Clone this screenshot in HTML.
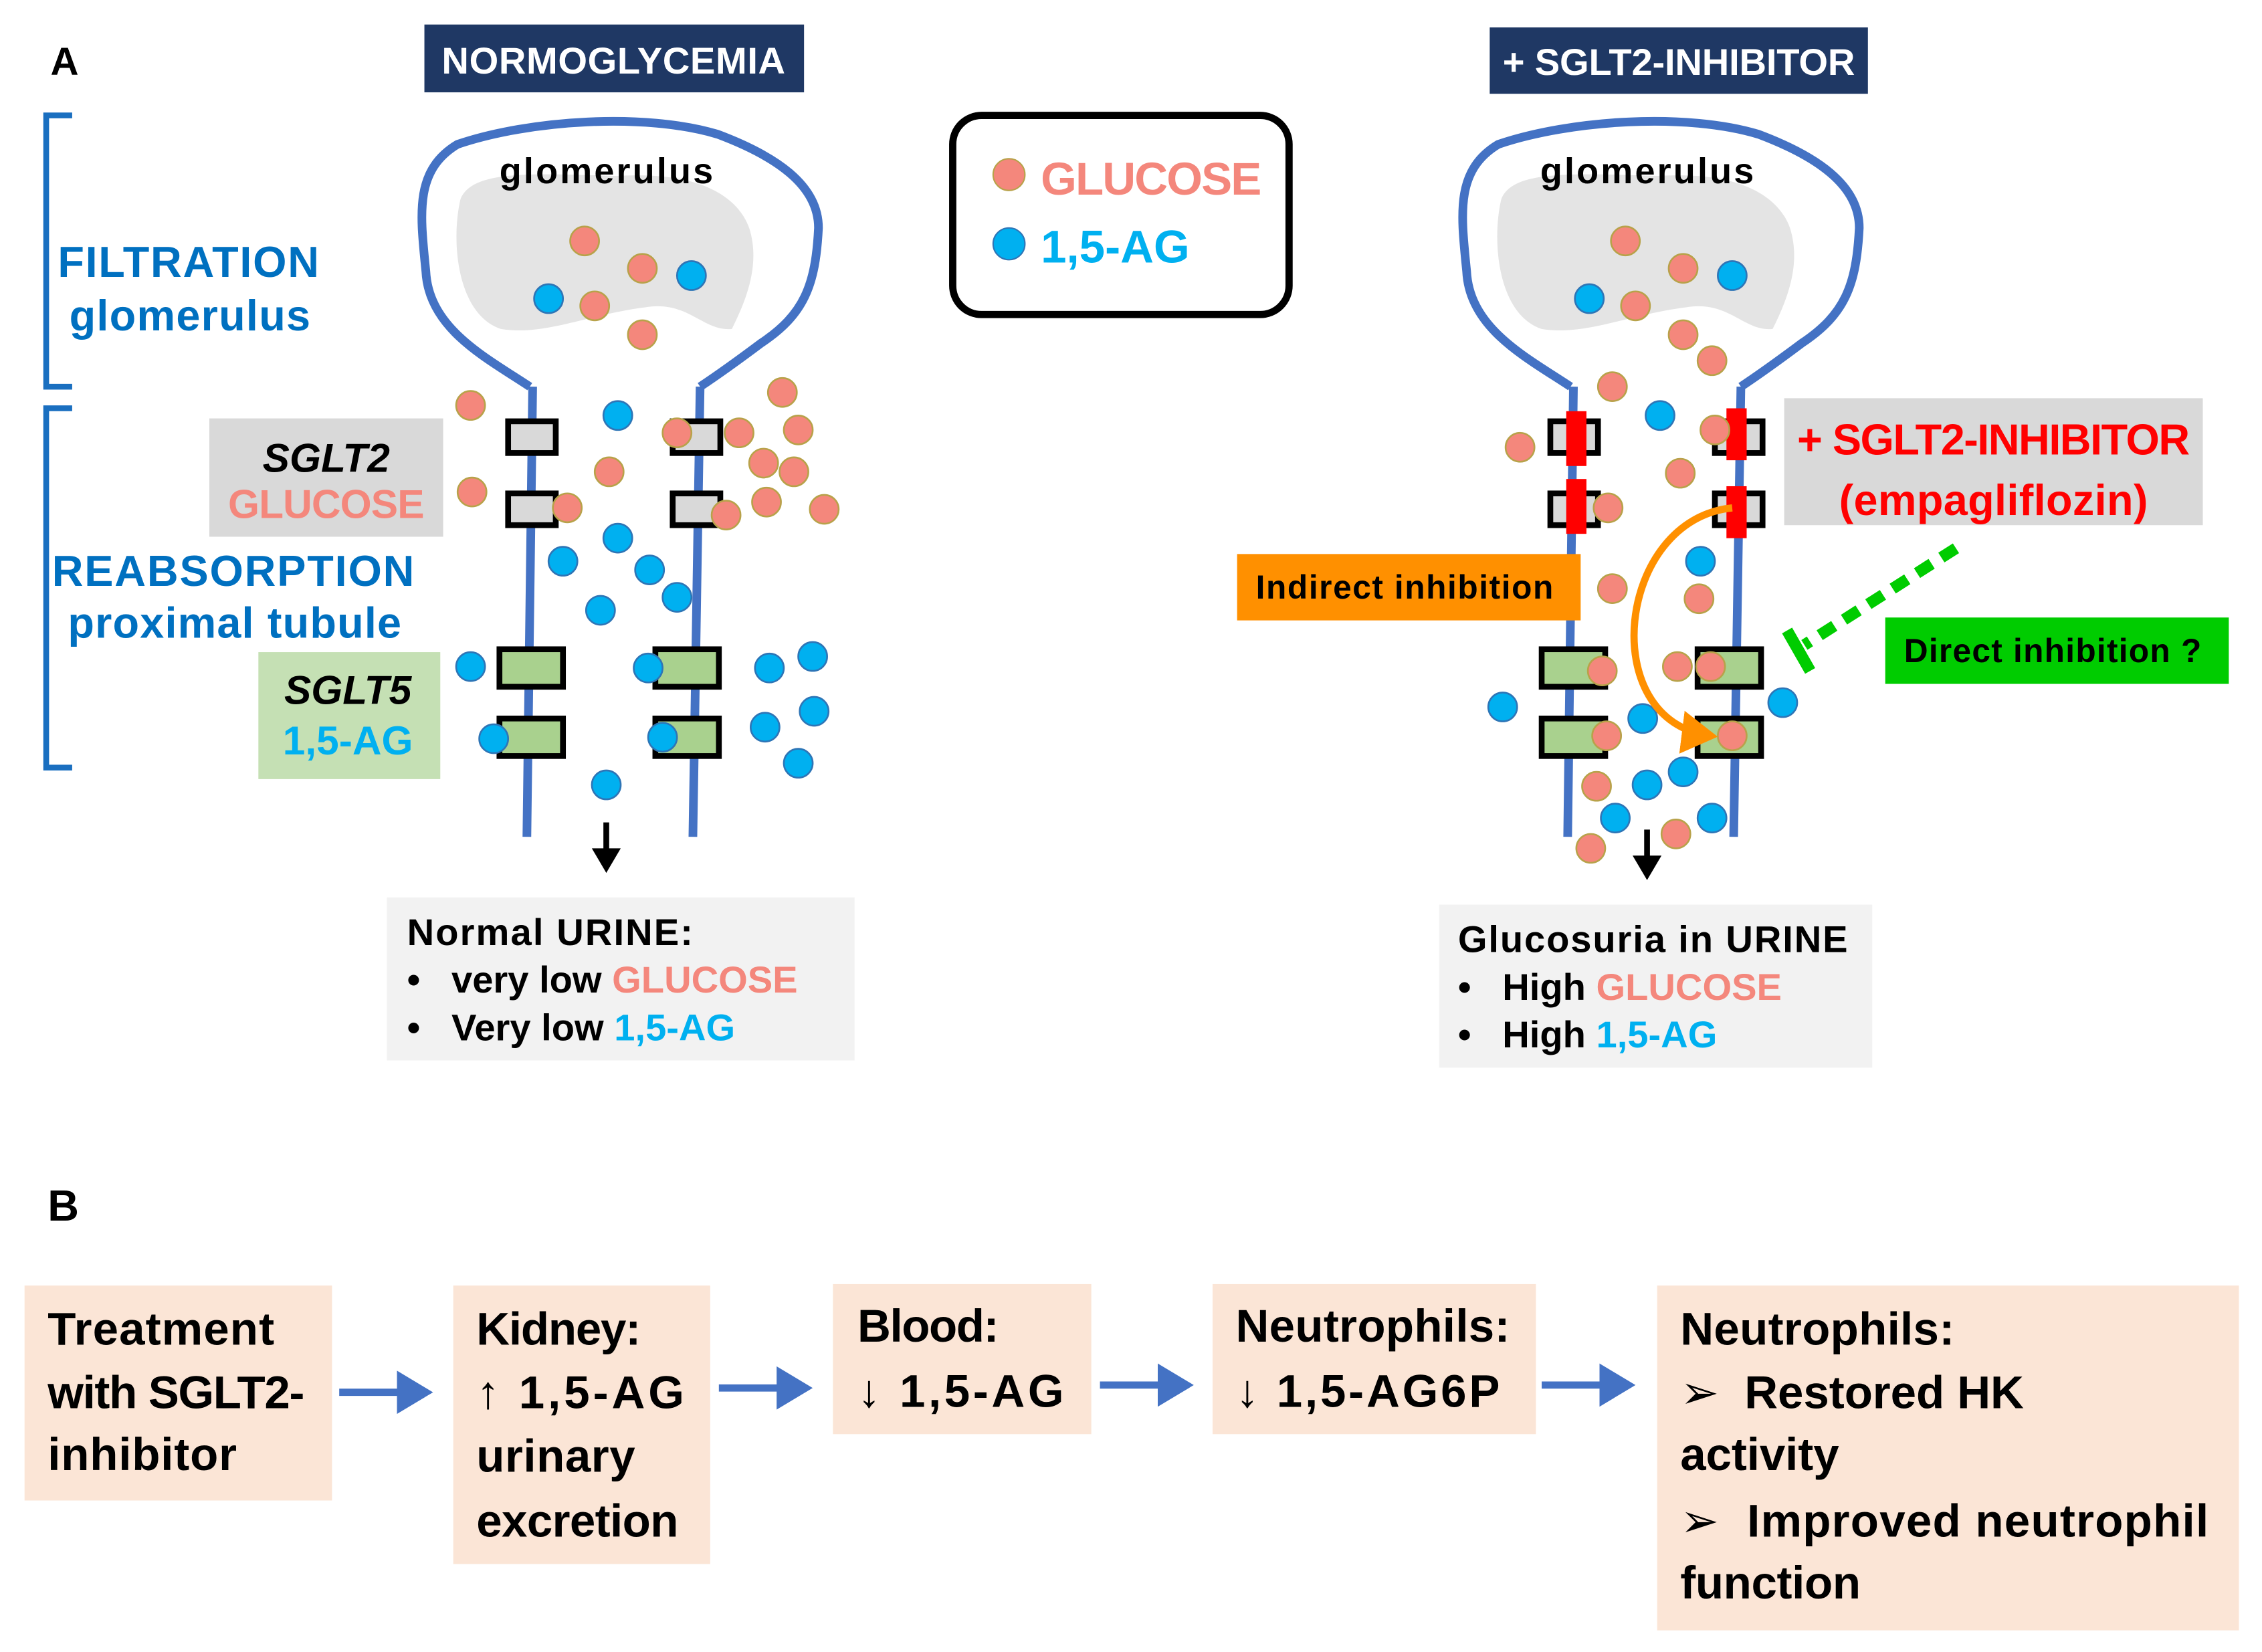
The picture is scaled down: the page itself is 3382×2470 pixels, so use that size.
<!DOCTYPE html>
<html><head><meta charset="utf-8"><style>html,body{margin:0;padding:0;background:#fff}svg{display:block}text{font-family:"Liberation Sans","DejaVu Sans",sans-serif;font-weight:bold}</style></head>
<body>
<svg width="3382" height="2470" viewBox="0 0 1567 1145" preserveAspectRatio="none" xmlns="http://www.w3.org/2000/svg">
<defs>
<marker id="ab" markerWidth="6" markerHeight="6" refX="4" refY="3" orient="auto" markerUnits="strokeWidth"><path d="M0,0 L5,3 L0,6 z" fill="#4472c4"/></marker>
<marker id="ao" markerWidth="6" markerHeight="6" refX="4" refY="3" orient="auto" markerUnits="strokeWidth"><path d="M0,0 L5,3 L0,6 z" fill="#ff9000"/></marker>
<g id="glom">
<path d="M0,0 C-30,-20 -70,-40 -72,-80 C-76,-120 -80,-150 -50,-168 C0,-185 80,-190 130,-175 C170,-160 200,-140 200,-110 C198,-70 190,-50 160,-30 C140,-15 130,-8 118,0" fill="none" stroke="#4472c4" stroke-width="6"/>
<path d="M-48,-130 C-40,-150 0,-148 60,-146 C120,-150 145,-130 152,-110 C160,-85 150,-60 140,-40 C120,-38 110,-60 80,-55 C40,-50 10,-35 -20,-40 C-50,-50 -55,-100 -48,-130 Z" fill="#e4e4e4"/>
</g>
</defs>
<text x="35" y="52" font-size="27">A</text>
<text x="33" y="846" font-size="30">B</text>
<rect x="294" y="17" width="263" height="47" fill="#1f3864"/>
<text x="425" y="51" font-size="26" fill="#fff" text-anchor="middle" textLength="238">NORMOGLYCEMIA</text>
<rect x="1032" y="19" width="262" height="46" fill="#1f3864"/>
<text x="1163" y="52" font-size="26" fill="#fff" text-anchor="middle" textLength="244">+ SGLT2-INHIBITOR</text>
<path d="M50,80 H32 V268 H50 M50,283 H32 V532 H50" fill="none" stroke="#1a6fc0" stroke-width="4"/>
<g fill="#0070c0" font-size="30"><text x="40" y="192" textLength="181">FILTRATION</text><text x="48" y="229" textLength="167">glomerulus</text><text x="36" y="406" textLength="251">REABSORPTION</text><text x="47" y="442" textLength="231">proximal tubule</text></g>
<rect x="145" y="290" width="162" height="82" fill="#d9d9d9"/>
<text x="226" y="327" font-size="28" font-style="italic" text-anchor="middle">SGLT2</text>
<text x="226" y="359" font-size="28" fill="#f4877c" text-anchor="middle" textLength="136">GLUCOSE</text>
<rect x="179" y="452" width="126" height="88" fill="#c5e0b4"/>
<text x="241" y="488" font-size="28" font-style="italic" text-anchor="middle">SGLT5</text>
<text x="241" y="523" font-size="28" fill="#00b0f0" text-anchor="middle">1,5-AG</text>
<use href="#glom" x="367" y="268"/>
<path d="M369,268 L365,580 M485,268 L480,580" stroke="#4472c4" stroke-width="6" fill="none"/>
<text x="420" y="127" font-size="25" text-anchor="middle" textLength="148">glomerulus</text>
<g fill="#d9d9d9" stroke="#000" stroke-width="4"><rect x="352" y="292" width="33" height="22"/><rect x="352" y="342" width="33" height="22"/><rect x="466" y="292" width="33" height="22"/><rect x="466" y="342" width="33" height="22"/></g>
<g fill="#a9d18e" stroke="#000" stroke-width="4"><rect x="346" y="450" width="44" height="26"/><rect x="346" y="498" width="44" height="26"/><rect x="454" y="450" width="44" height="26"/><rect x="454" y="498" width="44" height="26"/></g>
<g fill="#f4877c" stroke="#b8a24a" stroke-width="1.2">
<circle cx="405" cy="167" r="10"/><circle cx="445" cy="186" r="10"/><circle cx="412" cy="212" r="10"/><circle cx="445" cy="232" r="10"/><circle cx="326" cy="281" r="10"/><circle cx="327" cy="341" r="10"/><circle cx="469" cy="300" r="10"/><circle cx="512" cy="300" r="10"/><circle cx="542" cy="272" r="10"/><circle cx="553" cy="298" r="10"/><circle cx="529" cy="321" r="10"/><circle cx="550" cy="327" r="10"/><circle cx="422" cy="327" r="10"/><circle cx="393" cy="352" r="10"/><circle cx="503" cy="357" r="10"/><circle cx="531" cy="348" r="10"/><circle cx="571" cy="353" r="10"/></g>
<g fill="#00b0f0" stroke="#2e75b6" stroke-width="1.2">
<circle cx="479" cy="191" r="10"/><circle cx="380" cy="207" r="10"/><circle cx="428" cy="288" r="10"/><circle cx="428" cy="373" r="10"/><circle cx="390" cy="389" r="10"/><circle cx="450" cy="395" r="10"/><circle cx="469" cy="414" r="10"/><circle cx="416" cy="423" r="10"/><circle cx="326" cy="462" r="10"/><circle cx="449" cy="463" r="10"/><circle cx="533" cy="463" r="10"/><circle cx="563" cy="455" r="10"/><circle cx="342" cy="512" r="10"/><circle cx="459" cy="511" r="10"/><circle cx="530" cy="504" r="10"/><circle cx="564" cy="493" r="10"/><circle cx="553" cy="529" r="10"/><circle cx="420" cy="544" r="10"/></g>
<path d="M420,570 V590" stroke="#000" stroke-width="4"/><path d="M410,588 L430,588 L420,605 Z" fill="#000"/>
<rect x="268" y="622" width="324" height="113" fill="#f2f2f2"/>
<text x="282" y="655" font-size="26" textLength="198">Normal URINE:</text>
<text x="282" y="688" font-size="26">•&#160;&#160;&#160;very low <tspan fill="#f4877c">GLUCOSE</tspan></text>
<text x="282" y="721" font-size="26">•&#160;&#160;&#160;Very low <tspan fill="#00b0f0">1,5-AG</tspan></text>
<rect x="660" y="80" width="233" height="138" rx="20" fill="#fff" stroke="#000" stroke-width="5"/>
<circle cx="699" cy="121" r="11" fill="#f4877c" stroke="#b8a24a"/><circle cx="699" cy="169" r="11" fill="#00b0f0" stroke="#2e75b6"/>
<text x="721" y="135" font-size="32" fill="#f4877c" textLength="153">GLUCOSE</text>
<text x="721" y="182" font-size="32" fill="#00b0f0">1,5-AG</text>
<use href="#glom" x="1088" y="268"/>
<path d="M1090,268 L1086,580 M1206,268 L1201,580" stroke="#4472c4" stroke-width="6" fill="none"/>
<text x="1141" y="127" font-size="25" text-anchor="middle" textLength="148">glomerulus</text>
<g fill="#d9d9d9" stroke="#000" stroke-width="4"><rect x="1074" y="292" width="33" height="22"/><rect x="1074" y="342" width="33" height="22"/><rect x="1188" y="292" width="33" height="22"/><rect x="1188" y="342" width="33" height="22"/></g>
<g fill="#ff0000"><rect x="1085" y="285" width="14" height="38"/><rect x="1085" y="332" width="14" height="38"/><rect x="1196" y="283" width="14" height="36"/><rect x="1196" y="337" width="14" height="36"/></g>
<g fill="#a9d18e" stroke="#000" stroke-width="4"><rect x="1068" y="450" width="44" height="26"/><rect x="1068" y="498" width="44" height="26"/><rect x="1176" y="450" width="44" height="26"/><rect x="1176" y="498" width="44" height="26"/></g>
<g fill="#f4877c" stroke="#b8a24a" stroke-width="1.2">
<circle cx="1126" cy="167" r="10"/><circle cx="1166" cy="186" r="10"/><circle cx="1133" cy="212" r="10"/><circle cx="1166" cy="232" r="10"/><circle cx="1186" cy="250" r="10"/><circle cx="1117" cy="268" r="10"/><circle cx="1053" cy="310" r="10"/><circle cx="1188" cy="298" r="10"/><circle cx="1164" cy="328" r="10"/><circle cx="1114" cy="352" r="10"/><circle cx="1117" cy="408" r="10"/><circle cx="1177" cy="415" r="10"/><circle cx="1110" cy="465" r="10"/><circle cx="1162" cy="462" r="10"/><circle cx="1185" cy="462" r="10"/><circle cx="1113" cy="510" r="10"/><circle cx="1200" cy="510" r="10"/><circle cx="1106" cy="545" r="10"/><circle cx="1161" cy="578" r="10"/><circle cx="1102" cy="588" r="10"/></g>
<g fill="#00b0f0" stroke="#2e75b6" stroke-width="1.2">
<circle cx="1200" cy="191" r="10"/><circle cx="1101" cy="207" r="10"/><circle cx="1150" cy="288" r="10"/><circle cx="1178" cy="389" r="10"/><circle cx="1041" cy="490" r="10"/><circle cx="1138" cy="498" r="10"/><circle cx="1235" cy="487" r="10"/><circle cx="1141" cy="544" r="10"/><circle cx="1166" cy="535" r="10"/><circle cx="1119" cy="567" r="10"/><circle cx="1186" cy="567" r="10"/></g>
<path d="M1200,352 C1120,360 1105,500 1185,510" fill="none" stroke="#ff9000" stroke-width="5" marker-end="url(#ao)"/>
<path d="M1141,575 V595" stroke="#000" stroke-width="4"/><path d="M1131,593 L1151,593 L1141,610 Z" fill="#000"/>
<rect x="1236" y="276" width="290" height="88" fill="#d9d9d9"/>
<text x="1381" y="315" font-size="30" fill="#ff0000" text-anchor="middle" textLength="272">+ SGLT2-INHIBITOR</text>
<text x="1381" y="357" font-size="30" fill="#ff0000" text-anchor="middle" textLength="214">(empagliflozin)</text>
<rect x="857" y="384" width="238" height="46" fill="#ff9000"/>
<text x="973" y="415" font-size="23" text-anchor="middle" textLength="206">Indirect inhibition</text>
<rect x="1306" y="428" width="238" height="46" fill="#00cc00"/>
<text x="1422" y="459" font-size="23" text-anchor="middle" textLength="206">Direct inhibition ?</text>
<path d="M1355,380 L1250,447" stroke="#00cc00" stroke-width="8" stroke-dasharray="12,8"/>
<path d="M1238,437 L1254,465" stroke="#00cc00" stroke-width="8"/>
<rect x="997" y="627" width="300" height="113" fill="#f2f2f2"/>
<text x="1010" y="660" font-size="26" textLength="270">Glucosuria in URINE</text>
<text x="1010" y="693" font-size="26">•&#160;&#160;&#160;High <tspan fill="#f4877c">GLUCOSE</tspan></text>
<text x="1010" y="726" font-size="26">•&#160;&#160;&#160;High <tspan fill="#00b0f0">1,5-AG</tspan></text>
<g fill="#fbe5d6"><rect x="17" y="891" width="213" height="149"/><rect x="314" y="891" width="178" height="193"/><rect x="577" y="890" width="179" height="104"/><rect x="840" y="890" width="224" height="104"/><rect x="1148" y="891" width="403" height="239"/></g>
<g font-size="32" fill="#000">
<text x="33" y="932" textLength="157">Treatment</text><text x="33" y="976" textLength="178">with SGLT2-</text><text x="33" y="1019" textLength="131">inhibitor</text>
<text x="330" y="932" textLength="114">Kidney:</text><text x="330" y="976" textLength="144">↑ 1,5-AG</text><text x="330" y="1020" textLength="110">urinary</text><text x="330" y="1065" textLength="140">excretion</text>
<text x="594" y="930" textLength="98">Blood:</text><text x="594" y="975" textLength="143">↓ 1,5-AG</text>
<text x="856" y="930" textLength="190">Neutrophils:</text><text x="856" y="975" textLength="183">↓ 1,5-AG6P</text>
<text x="1164" y="932" textLength="190">Neutrophils:</text><text x="1164" y="976" textLength="238">➢&#160;&#160;Restored HK</text><text x="1164" y="1019" textLength="110">activity</text><text x="1164" y="1065" textLength="366">➢&#160;&#160;Improved neutrophil</text><text x="1164" y="1108" textLength="125">function</text>
</g>
<g stroke="#4472c4" stroke-width="5" marker-end="url(#ab)"><path d="M235,965 H295"/><path d="M498,962 H558"/><path d="M762,960 H822"/><path d="M1068,960 H1128"/></g>
</svg>
</body></html>
